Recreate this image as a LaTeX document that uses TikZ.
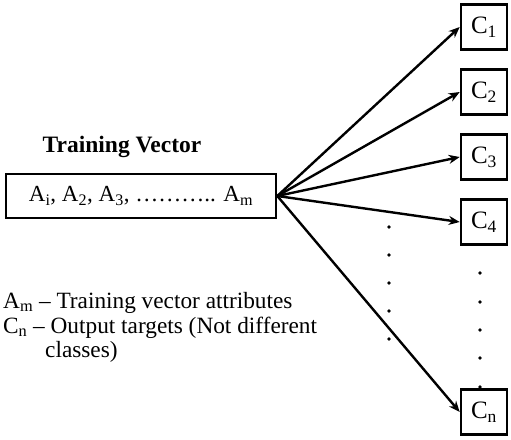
\documentclass[tikz,border=0pt]{standalone}
\usepackage{fontspec}
\setmainfont{Liberation Serif}
\usetikzlibrary{arrows.meta}
\begin{document}
\begin{tikzpicture}[x=1pt,y=-1pt,
  cbox/.style={draw,line width=2.6pt,minimum width=46pt,minimum height=45pt,inner sep=0pt,font=\fontsize{25}{27}\selectfont},
  vecbox/.style={draw,line width=2.6pt,minimum width=270pt,minimum height=44pt,inner sep=0pt,font=\fontsize{23}{25}\selectfont},
  arr/.style={line width=2.4pt,-{Stealth[length=11pt,width=9pt]}},
  dotmark/.style={circle,fill,inner sep=0pt,minimum size=3.6pt},
  legend/.style={anchor=base west,inner sep=0pt,font=\fontsize{23.3}{25}\selectfont}]
\useasboundingbox (0,0) rectangle (511,439);
\node[vecbox] (vec) at (141,196) {A\textsubscript{i}, A\textsubscript{2}, A\textsubscript{3}, ……….. A\textsubscript{m}};
\node[font=\fontsize{23.5}{25}\selectfont\bfseries] (title) at (122,147) {Training Vector};
\node[cbox] (c1) at (484,27) {C\textsubscript{1}};
\node[cbox] (c2) at (484,92) {C\textsubscript{2}};
\node[cbox] (c3) at (484,157) {C\textsubscript{3}};
\node[cbox] (c4) at (484,222) {C\textsubscript{4}};
\node[cbox] (cn) at (484,412) {C\textsubscript{n}};
\foreach \t in {c1,c2,c3,c4,cn} \draw[arr] (vec.east) -- (\t.west);
\foreach \y [count=\i] in {227,255,283,311,339} \node[dotmark] (l\i) at (389,\y) {};
\foreach \y [count=\i] in {273,302,330,358,387} \node[dotmark] (r\i) at (480,\y) {};
\node[legend] (leg1) at (3,308) {A\textsubscript{m} – Training vector attributes};
\node[legend] (leg2) at (3,333) {C\textsubscript{n} – Output targets (Not different};
\node[legend] (leg3) at (45,357) {classes)};
\end{tikzpicture}
\end{document}
